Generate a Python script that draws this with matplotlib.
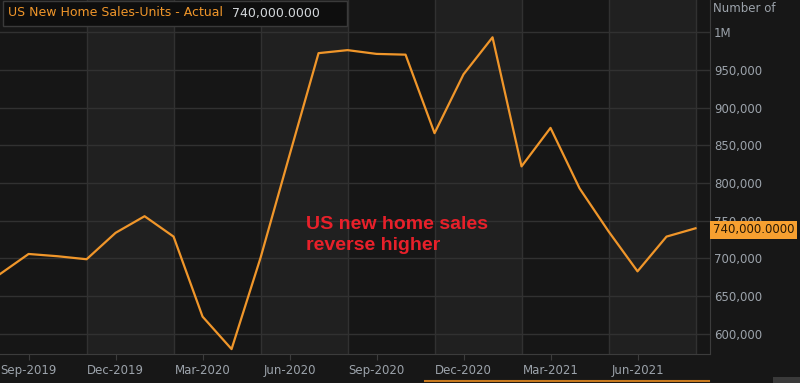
import numpy as np
import matplotlib.pyplot as plt
from matplotlib.patches import Rectangle

# monthly US new home sales (units), Aug-2019 .. Aug-2021
months = ['Aug-2019', 'Sep-2019', 'Oct-2019', 'Nov-2019', 'Dec-2019', 'Jan-2020', 'Feb-2020',
          'Mar-2020', 'Apr-2020', 'May-2020', 'Jun-2020', 'Jul-2020', 'Aug-2020', 'Sep-2020',
          'Oct-2020', 'Nov-2020', 'Dec-2020', 'Jan-2021', 'Feb-2021', 'Mar-2021', 'Apr-2021',
          'May-2021', 'Jun-2021', 'Jul-2021', 'Aug-2021']
sales = [679000, 706000, 703000, 699000, 734000, 756000, 729000,
         623000, 580000, 701000, 837000, 972000, 976000, 971000,
         970000, 866000, 944000, 993000, 822000, 873000, 793000,
         736000, 683000, 729000, 740000]

tick_labels = ['Sep-2019', 'Dec-2019', 'Mar-2020', 'Jun-2020', 'Sep-2020',
               'Dec-2020', 'Mar-2021', 'Jun-2021']
y_ticks = [600000, 650000, 700000, 750000, 800000, 850000, 900000, 950000, 1000000]
y_labels = ['600,000', '650,000', '700,000', '750,000', '800,000', '850,000',
            '900,000', '950,000', '1M']
last_value = '740,000.0000'

BG = '#171717'
DARK = '#161616'
LIGHT = '#202020'
GRID = '#313131'
ORANGE = '#f0962a'
LABEL = '#9ca3ab'

fig = plt.figure(figsize=(8, 3.83), dpi=100, facecolor=BG)
ax = fig.add_axes([0, 29 / 383, 710 / 800, 354 / 383])
ax.set_facecolor(DARK)

x = np.arange(len(months)) - 1  # Sep-2019 -> 0
ax.set_xlim(-0.986, 23.5)
ax.set_ylim(573500, 1042400)

# alternating bands between the vertical gridlines
band_edges = [2, 5, 8, 11, 14, 17, 20, 23]
for i in range(0, len(band_edges) - 1, 2):
    ax.axvspan(band_edges[i], band_edges[i + 1], color=LIGHT, zorder=0, lw=0)
for b in band_edges:
    ax.axvline(b, color=GRID, lw=1, zorder=1)
for yt in y_ticks:
    ax.axhline(yt, color=GRID, lw=1, zorder=1)

ax.plot(x, sales, color=ORANGE, lw=1.6, zorder=3)

# axes styling
for s in ['top', 'left']:
    ax.spines[s].set_visible(False)
for s in ['bottom', 'right']:
    ax.spines[s].set_color('#3c3c3c')
ax.set_xticks(np.arange(0, 22, 3))
ax.set_xticklabels(tick_labels)
ax.tick_params(axis='x', colors='#3c3c3c', labelcolor=LABEL, labelsize=8.5, length=4, pad=3)
ax.yaxis.tick_right()
ax.set_yticks(y_ticks)
ax.set_yticklabels(y_labels)
ax.tick_params(axis='y', length=0, labelcolor=LABEL, labelsize=8.5, pad=3)

# annotation
ax.text(9.57, 731000, 'US new home sales\nreverse higher', color='#e8202a',
        fontsize=14, fontweight='bold', family='Liberation Sans',
        va='center', ha='left', linespacing=1.3, zorder=4)

# header box
fig.patches.append(Rectangle((3 / 800, 1 - 26 / 383), 344 / 800, 25 / 383,
                             transform=fig.transFigure, facecolor='#0e0e0e',
                             edgecolor='#3a3a3a', lw=1, zorder=5))
fig.text(8 / 800, 1 - 13 / 383, 'US New Home Sales-Units - Actual', color=ORANGE,
         fontsize=9, va='center', ha='left', zorder=6)
fig.text(232 / 800, 1 - 13 / 383, last_value, color='#d4d8dc',
         fontsize=9, va='center', ha='left', zorder=6)

fig.text(713 / 800, 1 - 9 / 383, 'Number of', color=LABEL, fontsize=8.5,
         va='center', ha='left')

# last value tag on the right axis
fig.text(713 / 800, 1 - 230 / 383, last_value, color='#2a1a05', fontsize=8.5,
         va='center', ha='left', zorder=7,
         bbox=dict(boxstyle='square,pad=0.25', facecolor='#f7a030', edgecolor='none'))

# range bar at the bottom
fig.add_artist(plt.Line2D([425 / 800, 709 / 800], [2.5 / 383, 2.5 / 383],
                          transform=fig.transFigure, color='#c87a20', lw=1.5))
fig.patches.append(Rectangle((773 / 800, 0), 27 / 800, 6 / 383, transform=fig.transFigure,
                             facecolor='#3a3a3a', edgecolor='none'))

fig.savefig('out.png', dpi=100, facecolor=BG)
